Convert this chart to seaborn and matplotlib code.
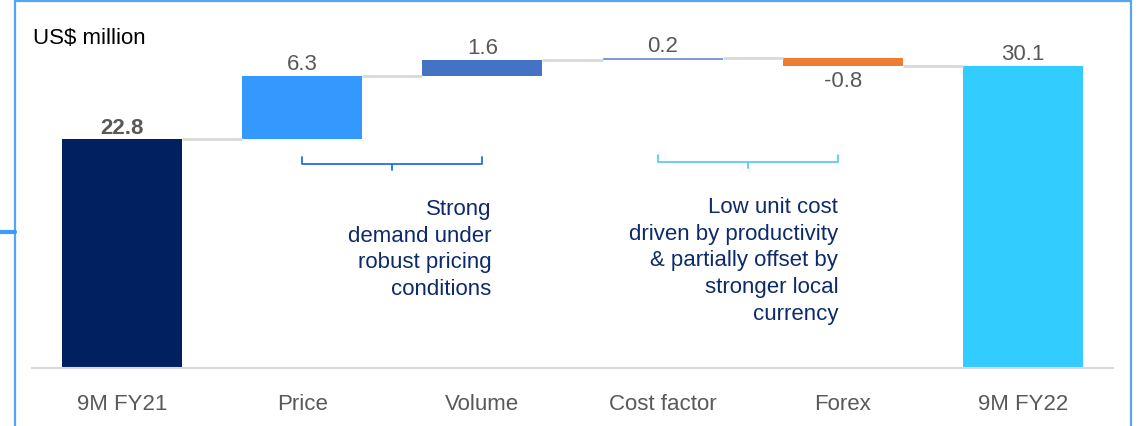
import matplotlib
matplotlib.use("Agg")
import matplotlib.pyplot as plt
from matplotlib.patches import Rectangle
from matplotlib.lines import Line2D
import seaborn as sns
import numpy as np
import pandas as pd

# ---- data ----
categories = ["9M FY21", "Price", "Volume", "Cost factor", "Forex", "9M FY22"]
changes = [22.8, 6.3, 1.6, 0.2, -0.8, 30.1]
is_total = [True, False, False, False, False, True]
labels = ["22.8", "6.3", "1.6", "0.2", "-0.8", "30.1"]
bar_colors = ["#002060", "#3399FF", "#4472C4", "#7B9CD9", "#ED7D31", "#33CCFF"]
note_left = "Strong\ndemand under\nrobust pricing\nconditions"
note_right = "Low unit cost\ndriven by productivity\n& partially offset by\nstronger local\ncurrency"
unit_label = "US$ million"

# waterfall geometry from data
bottoms, tops = [], []
running = 0.0
for v, tot in zip(changes, is_total):
    if tot:
        bottoms.append(0.0)
        tops.append(v)
        running = v
    else:
        bottoms.append(running)
        running = running + v
        tops.append(running)
heights = [t - b for t, b in zip(tops, bottoms)]

df = pd.DataFrame({"cat": categories, "h": heights, "b": bottoms})

sns.set_theme(style="white")
plt.rcParams["font.family"] = ["Liberation Sans", "DejaVu Sans"]

FS = 16

fig = plt.figure(figsize=(11.4, 4.27), dpi=100)
ax = fig.add_axes([32 / 1140, 1 - 369 / 427, 1081 / 1140, 369 / 427])

sns.barplot(data=df, x="cat", y="h", hue="cat", palette=dict(zip(categories, bar_colors)),
            order=categories, hue_order=categories, legend=False, width=2 / 3,
            saturation=1, ax=ax, linewidth=0)

# shift each bar to its waterfall base
for patch, cat in zip(ax.patches, categories):
    i = categories.index(cat)
    patch.set_y(bottoms[i])
    patch.set_height(heights[i])

# connectors
for i in range(len(categories) - 1):
    level = tops[i]
    ax.plot([i + 1 / 3, i + 1 - 1 / 3], [level, level], color="#D9D9D9", lw=2, zorder=1,
            solid_capstyle="butt")

# value labels
for i, (lab, v) in enumerate(zip(labels, changes)):
    weight = "bold" if i == 0 else "normal"
    if v < 0 and not is_total[i]:
        ax.annotate(lab, (i, bottoms[i] + heights[i]), xytext=(0, -3), textcoords="offset points",
                    ha="center", va="top", fontsize=FS, color="#595959", fontweight=weight)
    else:
        ax.annotate(lab, (i, tops[i]), xytext=(0, 1), textcoords="offset points",
                    ha="center", va="bottom", fontsize=FS, color="#595959", fontweight=weight)

ax.set_xlim(-0.5, 5.5)
ax.set_ylim(0, 36.75)
ax.set_xlabel("")
ax.set_ylabel("")
ax.set_yticks([])
ax.tick_params(axis="x", length=0, pad=18, labelsize=FS, labelcolor="#595959")
for s in ["top", "right", "left"]:
    ax.spines[s].set_visible(False)
ax.spines["bottom"].set_color("#D9D9D9")
ax.spines["bottom"].set_linewidth(1.5)
ax.patch.set_alpha(0)

# brackets
def bracket(x0, x1, y, color):
    xm = (x0 + x1) / 2
    ax.plot([x0, x0, x1, x1], [y + 0.65, y, y, y + 0.65], color=color, lw=1.3, clip_on=False)
    ax.plot([xm, xm], [y, y - 0.65], color=color, lw=1.3, clip_on=False)

bracket(1.0, 2.0, 20.35, "#1F6FE8")
bracket(2.975, 3.975, 20.55, "#5CCBF2")

ax.text(2.05, 16.95, note_left, ha="right", va="top", fontsize=FS, color="#0D2B6B",
        linespacing=1.36)
ax.text(3.975, 17.15, note_right, ha="right", va="top", fontsize=FS, color="#0D2B6B",
        linespacing=1.36)

# unit label
fig.text(33 / 1140, 1 - 38 / 427, unit_label, ha="left", va="center", fontsize=FS, color="#000000")

# frame
fig.patches.append(Rectangle((15 / 1140, -0.1), (1131 - 15) / 1140, 1 - 1.5 / 427 + 0.1,
                             transform=fig.transFigure, fill=False, edgecolor="#55A5F5", lw=1.6))
fig.lines.append(Line2D([0, 15 / 1140], [1 - 233 / 427, 1 - 233 / 427], transform=fig.transFigure,
                        color="#3D9BFF", lw=3))

fig.savefig("out.png", dpi=100)
